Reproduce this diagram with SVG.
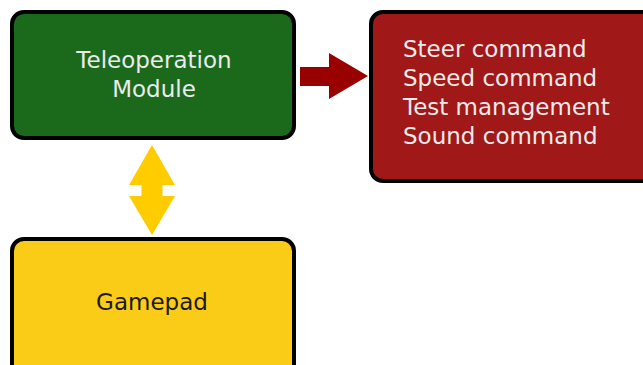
<svg xmlns="http://www.w3.org/2000/svg" width="643" height="365" viewBox="0 0 643 365">
  <style>
    .box { stroke: #000; stroke-width: 4; }
    .light { fill: #ebebeb; font-family: "DejaVu Sans", sans-serif; font-size: 23px; }
    .dark { fill: #1a1a1a; font-family: "DejaVu Sans", sans-serif; font-size: 23px; }
  </style>
  <rect width="643" height="365" fill="#ffffff"/>

  <g id="connectors">
    <!-- Teleoperation -> command set -->
    <polygon points="300,67 329,67 329,53 368,76 329,99 329,86 300,86" fill="#990000"/>
    <!-- Teleoperation <-> Gamepad (double-headed) -->
    <polygon points="152,145 175,185 162.5,185 162.5,196 175,196 152,235 129,196 141.5,196 141.5,185 129,185" fill="#ffcc00"/>
  </g>

  <g id="teleoperation">
    <rect class="box" x="12" y="12" width="282" height="126" rx="12" fill="#1b6a1b"/>
    <text class="light" x="154" y="68" text-anchor="middle">Teleoperation</text>
    <text class="light" x="154" y="97" text-anchor="middle">Module</text>
  </g>

  <g id="commands">
    <rect class="box" x="371" y="12" width="300" height="169" rx="12" fill="#a11818"/>
    <text class="light" x="403" y="57">Steer command</text>
    <text class="light" x="403" y="86">Speed command</text>
    <text class="light" x="403" y="115">Test management</text>
    <text class="light" x="403" y="144">Sound command</text>
  </g>

  <g id="gamepad">
    <rect class="box" x="12" y="239" width="282" height="150" rx="12" fill="#fbcc17"/>
    <text class="dark" x="152" y="310" text-anchor="middle">Gamepad</text>
  </g>
</svg>
